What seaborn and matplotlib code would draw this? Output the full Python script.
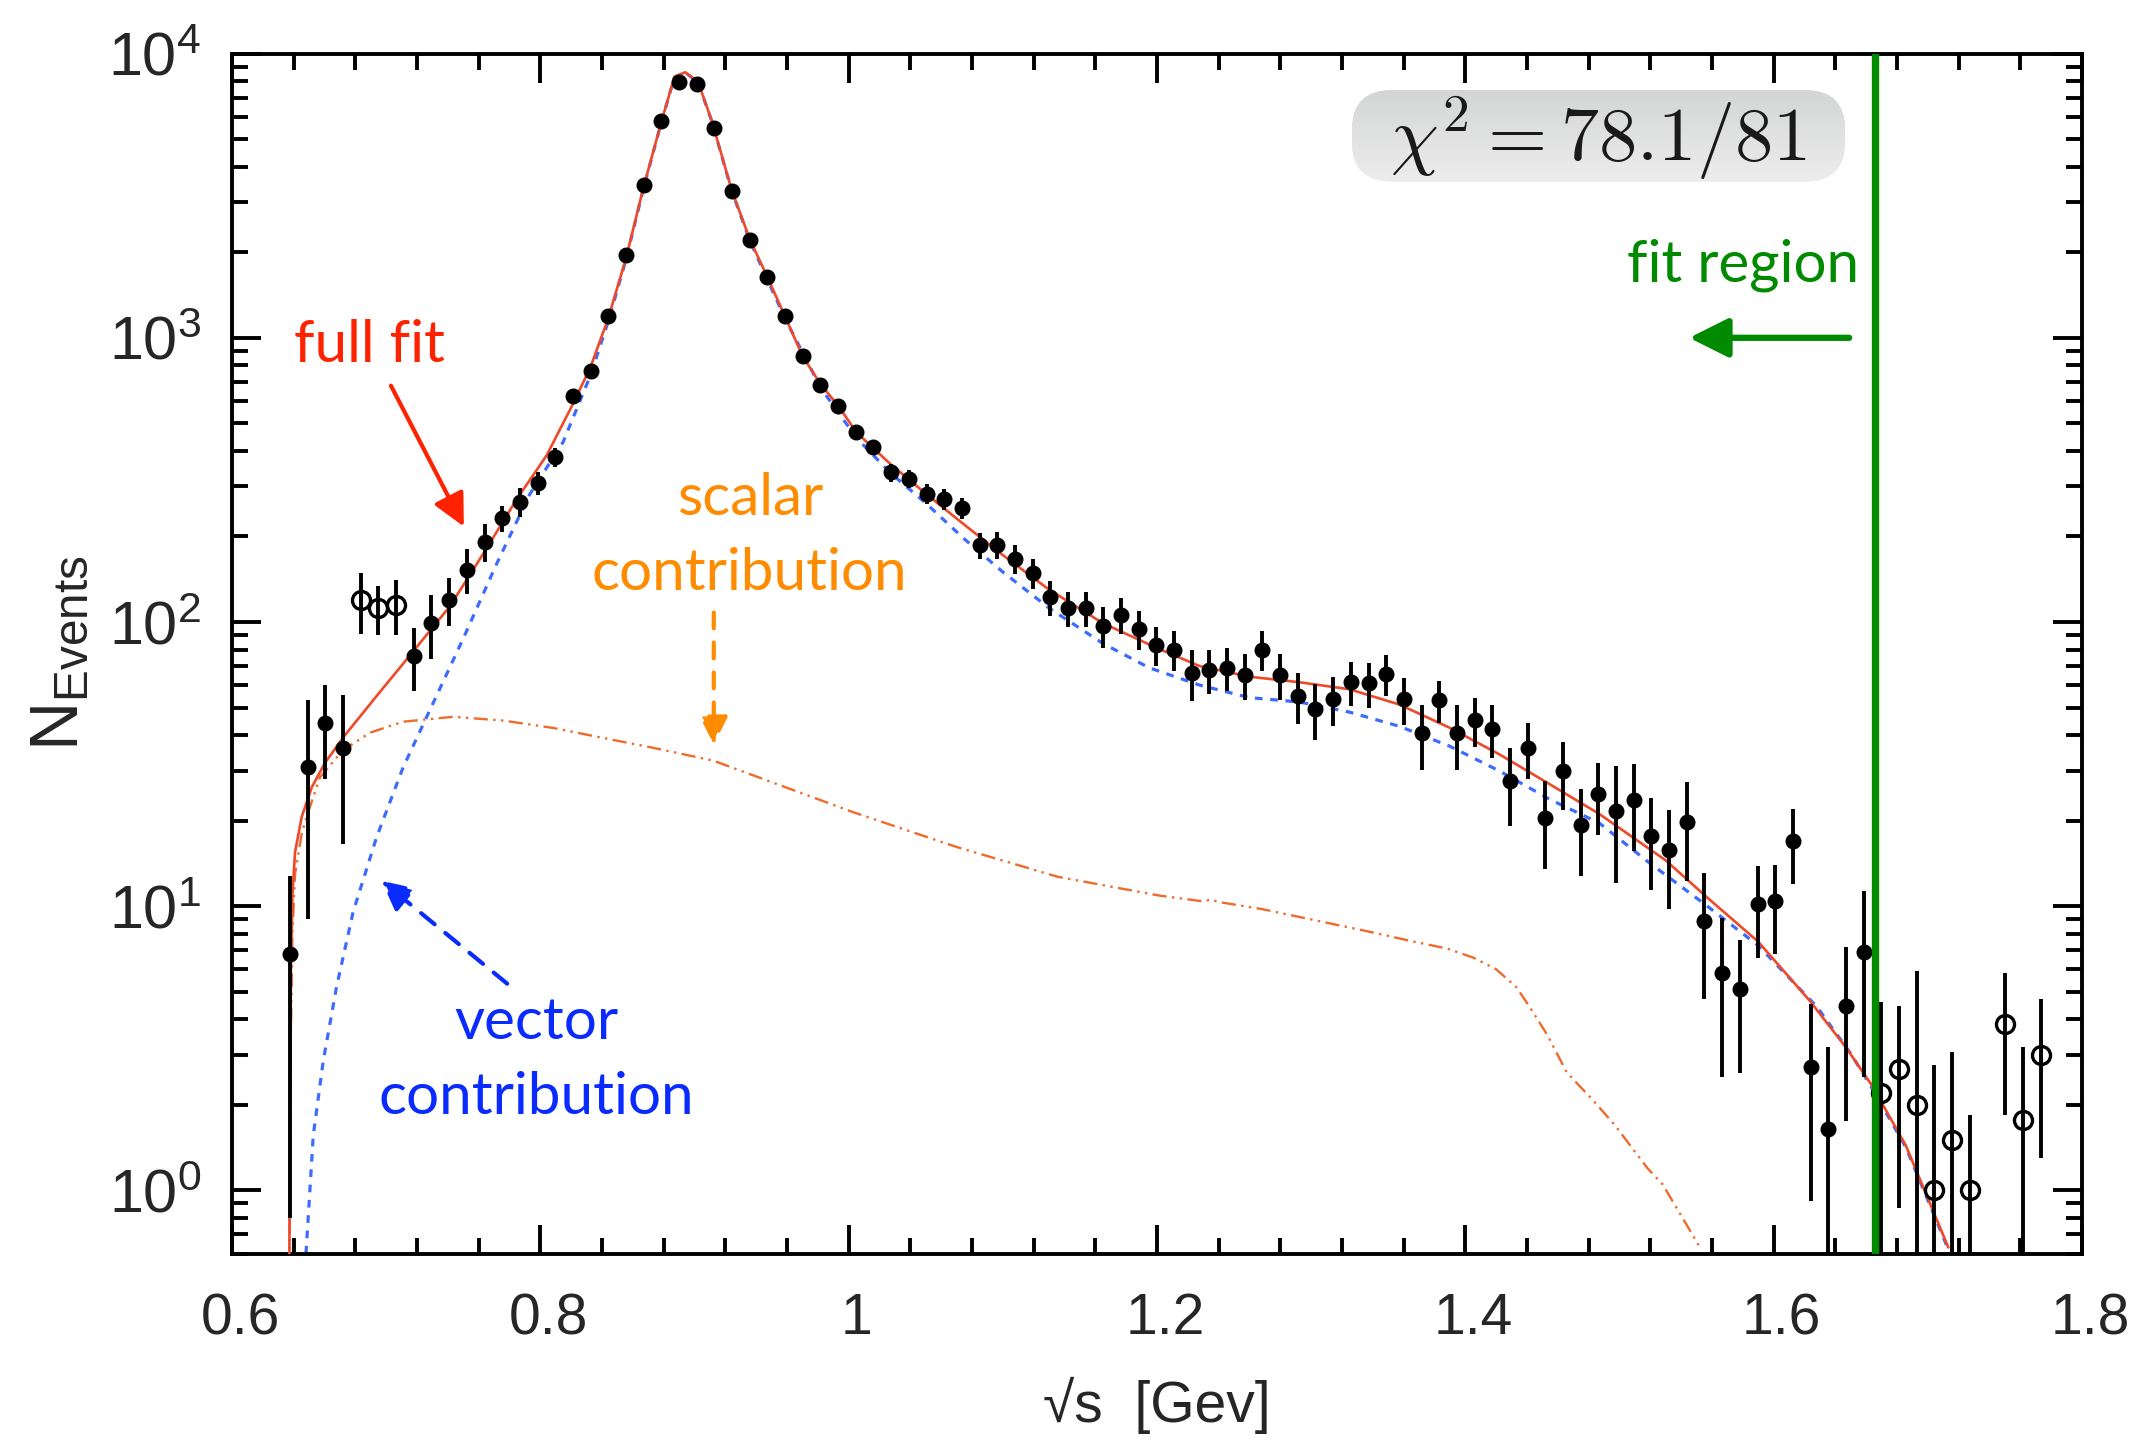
import numpy as np
import matplotlib
matplotlib.use("Agg")
import matplotlib.pyplot as plt
import seaborn as sns
from matplotlib.patches import FancyBboxPatch
from matplotlib.colors import LinearSegmentedColormap
from matplotlib.ticker import FixedLocator, FixedFormatter, MultipleLocator, LogLocator, NullFormatter
import matplotlib.transforms as mtransforms

# ---------------- data ----------------
# data points inside the fit region (filled)
x_fill = [0.6376, 0.6491, 0.6605, 0.6720, 0.7179, 0.7294, 0.7408, 0.7523, 0.7638, 0.7752,
          0.7867, 0.7982, 0.8096, 0.8211, 0.8326, 0.8441, 0.8555, 0.8670, 0.8785, 0.8899,
          0.9014, 0.9129, 0.9243, 0.9358, 0.9473, 0.9587, 0.9702, 0.9817, 0.9932, 1.0046,
          1.0161, 1.0276, 1.0390, 1.0505, 1.0620, 1.0734, 1.0849, 1.0964, 1.1078, 1.1193,
          1.1308, 1.1423, 1.1537, 1.1652, 1.1767, 1.1881, 1.1996, 1.2111, 1.2225, 1.2340,
          1.2455, 1.2569, 1.2684, 1.2799, 1.2914, 1.3028, 1.3143, 1.3258, 1.3372, 1.3487,
          1.3602, 1.3716, 1.3831, 1.3946, 1.4060, 1.4175, 1.4290, 1.4405, 1.4519, 1.4634,
          1.4749, 1.4863, 1.4978, 1.5093, 1.5207, 1.5322, 1.5437, 1.5551, 1.5666, 1.5781,
          1.5896, 1.6010, 1.6125, 1.6240, 1.6354, 1.6469, 1.6584]
y_fill = [6.8, 31, 44, 36, 76, 99, 120, 153, 192, 232,
          265, 308, 380, 626, 762, 1189, 1949, 3452, 5810, 7965,
          7820, 5463, 3288, 2213, 1636, 1189, 860, 684, 577, 465,
          413, 336, 319, 283, 271, 252, 186, 187, 167, 149,
          122, 112, 112, 96.7, 106, 94.5, 83, 80, 66, 68,
          69, 65, 80, 65, 55, 49.3, 53.7, 61.6, 61, 65.8,
          53.4, 40.6, 53, 40.6, 45.2, 42.2, 27.6, 36, 20.5, 29.8,
          19.3, 24.8, 21.6, 23.6, 17.7, 15.8, 19.8, 8.9, 5.8, 5.1,
          10.2, 10.4, 17.0, 2.72, 1.64, 4.46, 6.9]
e_fill = [6.0, 22, 16, 19.5, 19, 25, 23, 28, 30, 25,
          30, 28, 28, 25, 28, 35, 45, 60, 78, 90,
          90, 75, 58, 48, 40, 35, 30, 27, 25, 26,
          25, 25, 24, 23, 23, 22, 20, 20, 19, 18,
          17, 16, 16, 16, 15.6, 15, 13, 13, 13.4, 12,
          12, 12, 13, 12, 11.3, 11, 10.5, 11, 11, 11,
          10, 10.5, 9, 10.5, 9, 9, 8.5, 8, 7, 8,
          6.5, 7, 9.5, 8, 6.3, 6, 7.5, 4.2, 3.3, 2.5,
          3.6, 3.6, 5, 1.8, 1.56, 2.7, 4.4]

# data points excluded from the fit (open)
x_open = [0.6835, 0.6950, 0.7064, 1.6698, 1.6813, 1.6928, 1.7042, 1.7157, 1.7272, 1.7501, 1.7616, 1.7731]
y_open = [120, 112, 115, 2.2, 2.67, 2.0, 1.0, 1.5, 1.0, 3.84, 1.77, 3.0]
e_open = [29, 22, 25, 2.4, 1.8, 3.9, 1.77, 1.58, 0.84, 2.0, 1.43, 1.7]

# full fit curve
full_x = [0.6370, 0.6376, 0.6382, 0.6392, 0.6409, 0.6452, 0.6517, 0.6604, 0.6733, 0.6927,
          0.7165, 0.7413, 0.7629, 0.7846, 0.8040, 0.8208, 0.8326, 0.8440, 0.8555, 0.8670,
          0.8785, 0.8870, 0.8940, 0.8990, 0.9034, 0.9110, 0.9243, 0.9360, 0.9473, 0.9587,
          0.9702, 0.9820, 0.9932, 1.0050, 1.0270, 1.0500, 1.0750, 1.1000, 1.1300, 1.1650,
          1.2000, 1.2276, 1.2600, 1.2924, 1.3248, 1.3570, 1.3897, 1.4222, 1.4546, 1.4870,
          1.5300, 1.5563, 1.5900, 1.6234, 1.6470, 1.6640, 1.6857, 1.7133]
full_y = [0.3, 2.0, 6.0, 11.0, 15.5, 20.6, 26.2, 32, 40, 54,
          77.6, 113.6, 173.6, 270, 385, 580, 790, 1170, 1900, 3400,
          5750, 8290, 8600, 8200, 7650, 5850, 3288, 2213, 1636, 1189,
          860, 684, 577, 465, 360, 283, 220, 172, 130, 99,
          81, 70, 64.2, 61.4, 58, 51.3, 42.5, 34.2, 26.9, 21.1,
          14.5, 10.8, 7.5, 4.65, 3.18, 2.33, 1.44, 0.63]

# vector contribution
vec_x = [0.6480, 0.6527, 0.6592, 0.6678, 0.6786, 0.6938, 0.7110, 0.7305, 0.7500, 0.7716,
         0.7932, 0.8148, 0.8326, 0.8440, 0.8555, 0.8670, 0.8785, 0.8870, 0.8940, 0.8990,
         0.9034, 0.9110, 0.9243, 0.9360, 0.9587, 0.9820, 1.0050, 1.0270, 1.0500, 1.0750,
         1.1000, 1.1300, 1.1650, 1.1950, 1.2276, 1.2600, 1.2924, 1.3248, 1.3570, 1.3897,
         1.4222, 1.4546, 1.4870, 1.5180, 1.5560, 1.5900, 1.6280, 1.6500, 1.6640, 1.6857,
         1.7133]
vec_y = [0.6, 1.56, 2.86, 5.2, 9.56, 17.5, 30.8, 51.9, 87.5, 160,
         282, 430, 740, 1140, 1880, 3370, 5730, 8260, 8580, 8180,
         7620, 5820, 3270, 2190, 1170, 665, 445, 335, 262, 196,
         150, 112, 84, 69, 60, 54.2, 52.3, 48.2, 43, 36.6,
         29.9, 23.8, 19.6, 14.4, 10.1, 7.27, 4.43, 3.03, 2.28, 1.42,
         0.62]

# scalar contribution
sca_x = [0.6370, 0.6380, 0.6392, 0.6409, 0.6452, 0.6484, 0.6570, 0.6720, 0.6895, 0.7110,
         0.7435, 0.7760, 0.8083, 0.8407, 0.8731, 0.9124, 1.0032, 1.0694, 1.1355, 1.2016,
         1.2300, 1.2347, 1.2400, 1.2677, 1.3339, 1.3669, 1.3880, 1.4050, 1.4200, 1.4330,
         1.4420, 1.4535, 1.4658, 1.4820, 1.4969, 1.5180, 1.5280, 1.5530]
sca_y = [0.3, 3.0, 8.0, 13, 18, 20.6, 28.4, 35.4, 40.8, 44.6,
         46.4, 45, 42.4, 39.1, 36.1, 32.5, 21.4, 16.2, 12.7, 10.9,
         10.4, 10.55, 10.35, 9.78, 8.22, 7.5, 7.1, 6.6, 6.0, 5.2,
         4.4, 3.5, 2.6, 2.1, 1.7, 1.2, 1.05, 0.62]

fit_limit = 1.6655
x_ticks = [0.6, 0.8, 1.0, 1.2, 1.4, 1.6, 1.8]
x_ticklabels = ["0.6", "0.8", "1", "1.2", "1.4", "1.6", "1.8"]
y_ticks = [1, 10, 100, 1000, 10000]
y_ticklabels = [r"$\mathregular{10^{0}}$", r"$\mathregular{10^{1}}$", r"$\mathregular{10^{2}}$",
                r"$\mathregular{10^{3}}$", r"$\mathregular{10^{4}}$"]
chi2_text = r"$\chi^2 = 78.1/81$"

# ---------------- style ----------------
sns.set_theme(style="ticks")
plt.rcParams["font.family"] = ["Liberation Sans", "DejaVu Sans"]
plt.rcParams["mathtext.fontset"] = "custom"
plt.rcParams["mathtext.rm"] = "Liberation Sans"
plt.rcParams["mathtext.it"] = "Liberation Sans:italic"
plt.rcParams["mathtext.bf"] = "Liberation Sans:bold"

W, H = 2151, 1445
fig = plt.figure(figsize=(W / 100, H / 100), dpi=100)
fig.patch.set_facecolor("white")
ax = fig.add_axes([232 / W, 1 - 1253.5 / H, (2082 - 232) / W, (1253.5 - 53.6) / H])
ax.set_facecolor("white")
ax.set_yscale("log")

RED = "#ee4a2a"
BLUE = "#3d6bff"
ORANGE = "#f06a2c"

sns.lineplot(x=sca_x, y=sca_y, ax=ax, color=ORANGE, lw=1.7,
             linestyle=(0, (6, 2.3, 1, 2.3, 1, 2.3)), zorder=2)
sns.lineplot(x=vec_x, y=vec_y, ax=ax, color=BLUE, lw=2.3,
             linestyle=(0, (2.4, 2.4)), zorder=2)
sns.lineplot(x=full_x, y=full_y, ax=ax, color=RED, lw=1.9, zorder=3)

ax.errorbar(x_fill, y_fill, yerr=e_fill, fmt="o", color="black", ms=10.5,
            elinewidth=2.8, capsize=0, zorder=4)
ax.errorbar(x_open, y_open, yerr=e_open, fmt="o", color="black", ms=13,
            mfc="none", mec="black", mew=2.4, elinewidth=2.8, capsize=0, zorder=4)

ax.axvline(fit_limit, color="#008a00", lw=5.3, zorder=6)

ax.set_xlim(0.6, 1.8)
ax.set_ylim(0.6, 1e4)
ax.xaxis.set_major_locator(FixedLocator(x_ticks))
ax.xaxis.set_major_formatter(FixedFormatter(x_ticklabels))
ax.xaxis.set_minor_locator(MultipleLocator(0.04))
ax.yaxis.set_major_locator(FixedLocator(y_ticks))
ax.yaxis.set_major_formatter(FixedFormatter(y_ticklabels))
ax.yaxis.set_minor_locator(LogLocator(base=10, subs=np.arange(2, 10)))
ax.yaxis.set_minor_formatter(NullFormatter())
ax.tick_params(which="both", direction="in", top=True, right=True, width=2.8, color="black")
ax.tick_params(which="major", length=21)
ax.tick_params(axis="x", which="major", labelsize=41, pad=28)
ax.tick_params(axis="y", which="major", labelsize=44, pad=22)
ax.tick_params(which="minor", length=11.5)
for sp in ax.spines.values():
    sp.set_linewidth(2.8)
    sp.set_color("black")
    sp.set_visible(True)
ax.grid(False)

off = mtransforms.ScaledTranslation(8 / 100, 0, fig.dpi_scale_trans)
for lab in ax.get_xticklabels():
    lab.set_transform(lab.get_transform() + off)

ax.set_xlabel("\u221as  [Gev]", fontsize=41, labelpad=22)
ax.set_ylabel(r"$\mathregular{N_{Events}}$", fontsize=49, labelpad=12)

# ---------------- annotations ----------------
AFONT = ["Lato", "DejaVu Sans"]


def ftext(X, Y, s, color, size=42):
    fig.text(X / W, 1 - Y / H, s, color=color, fontsize=size, family=AFONT,
             ha="center", va="baseline")


ftext(369, 362, "full fit", "#ff2200")
ftext(750, 515, "scalar", "#ff8c00")
ftext(749, 590, "contribution", "#ff8c00")
ftext(536, 1039, "vector", "#0a2bff")
ftext(536, 1114, "contribution", "#0a2bff")
ftext(1743, 281, "fit region", "#008a00")

ax.annotate("", xy=(0.7504, 216.8), xytext=(0.7031, 678.6),
            arrowprops=dict(arrowstyle="-|>,head_length=1.1,head_width=0.55",
                            color="#ff2200", lw=3, mutation_scale=18, shrinkA=0, shrinkB=0),
            zorder=7)
ax.annotate("", xy=(0.9125, 37), xytext=(0.9125, 108),
            arrowprops=dict(arrowstyle="-|>,head_length=1.0,head_width=0.5",
                            color="#ff8c00", lw=3, ls=(0, (3.8, 3.4)),
                            mutation_scale=17, shrinkA=0, shrinkB=0),
            zorder=7)
ax.annotate("", xy=(0.6970, 12.29), xytext=(0.7785, 5.34),
            arrowprops=dict(arrowstyle="-|>,head_length=1.0,head_width=0.5",
                            color="#0a2bff", lw=3, ls=(0, (4.2, 3.3)),
                            mutation_scale=18, shrinkA=0, shrinkB=0),
            zorder=7)
ax.annotate("", xy=(1.5452, 1000), xytext=(1.649, 1000),
            arrowprops=dict(arrowstyle="-|>,head_length=1.2,head_width=0.6",
                            color="#008a00", lw=4.5, mutation_scale=20, shrinkA=0, shrinkB=0),
            zorder=7)

# chi^2 box with grey gradient
bx0, by0, bw, bh = 1351.7, H - 181.7, 493.6, 91.7
bax = fig.add_axes([bx0 / W, by0 / H, bw / W, bh / H])
bax.set_xlim(0, bw)
bax.set_ylim(0, bh)
bax.axis("off")
patch = FancyBboxPatch((0, 0), bw, bh, boxstyle="round,pad=0,rounding_size=40",
                       transform=bax.transData, fc="none", ec="none")
bax.add_patch(patch)
grad = np.linspace(0, 1, 128).reshape(-1, 1)
cmap = LinearSegmentedColormap.from_list("greyfade", ["#ededed", "#d4d5d5"])
im = bax.imshow(grad, extent=[0, bw, 0, bh], origin="lower", cmap=cmap, aspect="auto")
im.set_clip_path(patch)
bax.text(bw / 2, bh / 2 - 2, chi2_text, ha="center", va="center", fontsize=55,
         math_fontfamily="cm", color="#1a1a1a")

fig.savefig("out.png", dpi=100, facecolor="white")
